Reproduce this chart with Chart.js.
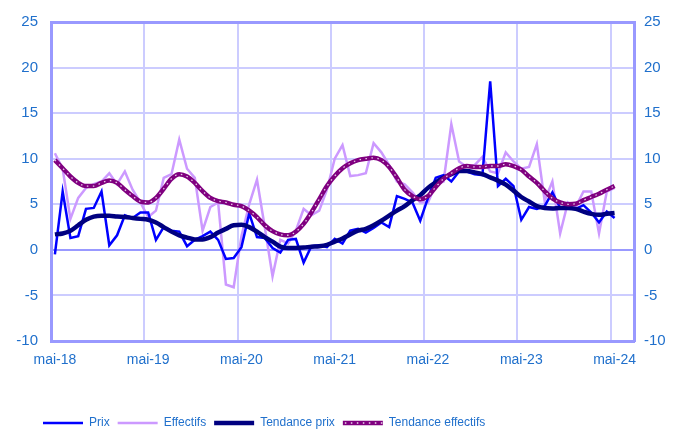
<!DOCTYPE html>
<html>
<head>
<meta charset="utf-8">
<script src="https://cdn.jsdelivr.net/npm/chart.js@4"></script>
<style>
  html, body { margin: 0; padding: 0; background: #fff; }
  #wrap { width: 678px; height: 432px; }
</style>
</head>
<body>
<div id="wrap"><canvas id="chart" width="678" height="432"></canvas></div>
<script>
// Mois de l'axe : mai-18 ... juil-24 (l'axe déborde un peu après la dernière donnée)
const moisNoms = ['mai', 'juin', 'juil', 'août', 'sept', 'oct', 'nov', 'déc', 'janv', 'févr', 'mars', 'avr'];
const nbMois = 75;
const mois = [];
for (let i = 0; i < nbMois; i++) {
    const annee = 18 + Math.floor((4 + i) / 12);
    mois.push(moisNoms[i % 12] + '-' + annee);
}

const graduations = [-10, -5, 0, 5, 10, 15, 20, 25];

// Glissement annuel, en %
const prix = [-0.5, 6.4, 1.3, 1.5, 4.5, 4.6, 6.4, 0.5, 1.6, 3.8,
    3.5, 4.1, 4.1, 1.1, 2.5, 2.1, 2.0, 0.4, 1.1, 1.5,
    2.0, 1.1, -1.0, -0.9, 0.3, 4.0, 1.4, 1.3, 0.2, -0.3,
    1.1, 1.2, -1.4, 0.4, 0.5, 0.3, 1.2, 0.7, 2.1, 2.3,
    1.9, 2.4, 3.0, 2.5, 5.9, 5.6, 5.2, 3.2, 5.7, 7.9,
    8.2, 7.5, 8.6, 8.6, 8.3, 8.2, 18.5, 7.0, 7.8, 7.0,
    3.3, 4.7, 4.5, 4.8, 6.3, 4.6, 4.7, 4.5, 4.9, 4.1,
    3.0, 4.2, 3.5];

const effectifs = [10.6, 8.9, 3.4, 5.7, 6.8, 7.2, 7.5, 8.4, 7.2, 8.6,
    6.6, 5.2, 3.6, 4.3, 7.9, 8.3, 12.1, 8.9, 7.9, 2.1,
    4.7, 5.2, -3.8, -4.1, 1.5, 5.0, 7.7, 2.5, -2.9, 1.1,
    0.7, 2.1, 4.5, 3.8, 4.3, 6.6, 10.0, 11.5, 8.1, 8.2,
    8.4, 11.7, 10.7, 9.3, 7.5, 7.2, 6.3, 5.2, 5.2, 7.2,
    7.5, 13.8, 9.7, 9.1, 9.3, 10.2, 8.6, 8.4, 10.7, 9.7,
    8.9, 9.1, 11.6, 5.4, 7.5, 1.8, 5.2, 4.7, 6.4, 6.4,
    1.8, 6.4, 6.8];

const tendancePrix = [1.7, 1.8, 2.1, 2.7, 3.3, 3.65, 3.75, 3.75, 3.65, 3.6,
    3.5, 3.4, 3.3, 3.0, 2.5, 2.0, 1.6, 1.35, 1.15, 1.15,
    1.4, 1.9, 2.3, 2.7, 2.75, 2.5, 2.0, 1.4, 0.9, 0.35,
    0.2, 0.2, 0.25, 0.35, 0.4, 0.55, 0.9, 1.25, 1.7, 2.1,
    2.3, 2.7, 3.2, 3.75, 4.3, 4.8, 5.45, 6.0, 6.8, 7.4,
    7.9, 8.3, 8.65, 8.65, 8.5, 8.3, 7.95, 7.6, 7.15, 6.5,
    5.8, 5.3, 4.8, 4.6, 4.55, 4.6, 4.6, 4.5, 4.2, 3.95,
    3.85, 3.95, 4.05];

const tendanceEffectifs = [9.85, 8.95, 8.05, 7.35, 7.0, 7.0, 7.35, 7.6, 7.35, 6.6,
    5.9, 5.3, 5.2, 5.7, 6.7, 7.8, 8.3, 8.05, 7.35, 6.45,
    5.7, 5.35, 5.2, 4.95, 4.8, 4.3, 3.6, 2.7, 2.05, 1.7,
    1.6, 2.0, 2.85, 4.1, 5.55, 7.0, 8.1, 8.95, 9.5, 9.85,
    10.0, 10.1, 9.85, 9.1, 7.9, 6.6, 5.9, 5.55, 5.9, 6.9,
    7.8, 8.4, 8.95, 9.2, 9.1, 9.1, 9.2, 9.2, 9.4, 9.2,
    8.8, 8.05, 7.35, 6.45, 5.65, 5.2, 5.0, 5.05, 5.45, 5.8,
    6.15, 6.6, 7.0];

const police = 'Liberation Sans, Arial, sans-serif';
const bleuTexte = '#2070cc';
const cadre = '#9999ff';
const grille = '#ccccff';

// la légende commence sous le graphique, un peu à droite du bord
const decalageLegende = {
    id: 'decalageLegende',
    afterLayout(chart) {
        chart.legend.left += 35;
        chart.legend.right += 35;
        chart.legend.top += 3;
        chart.legend.bottom += 3;
    }
};

// pointillés blancs sur la courbe "Tendance effectifs" de la légende
const pointillesLegende = {
    id: 'pointillesLegende',
    afterDraw(chart) {
        const boites = chart.legend.legendHitBoxes;
        if (!boites || !boites[3]) return;
        const b = boites[3];
        const ctx = chart.ctx;
        const y = b.top + b.height / 2;
        ctx.save();
        ctx.strokeStyle = 'rgba(255,255,255,0.85)';
        ctx.lineWidth = 1.5;
        ctx.setLineDash([1.5, 4.5]);
        ctx.beginPath();
        ctx.moveTo(b.left + 2, y);
        ctx.lineTo(b.left + 40, y);
        ctx.stroke();
        ctx.restore();
    }
};

const couleurGrilleY = ctx => {
    const v = ctx.tick ? ctx.tick.value : null;
    if (v === 25 || v === 0 || v === -10) return cadre;
    return grille;
};
const epaisseurGrilleY = ctx => {
    const v = ctx.tick ? ctx.tick.value : null;
    if (v === 25 || v === -10) return 3;
    return 2;
};

new Chart(document.getElementById('chart').getContext('2d'), {
    type: 'line',
    data: {
        labels: mois,
        datasets: [
            {
                label: 'Prix',
                data: prix,
                borderColor: '#0000ff',
                borderWidth: 2.5,
                pointRadius: 0,
                tension: 0,
                order: 4
            },
            {
                label: 'Effectifs',
                data: effectifs,
                borderColor: '#cc99ff',
                borderWidth: 2.5,
                pointRadius: 0,
                tension: 0,
                order: 5
            },
            {
                label: 'Tendance prix',
                data: tendancePrix,
                borderColor: '#000080',
                borderWidth: 4.5,
                pointRadius: 0,
                cubicInterpolationMode: 'monotone',
                order: 3
            },
            {
                label: 'Tendance effectifs',
                data: tendanceEffectifs,
                borderColor: '#800080',
                borderWidth: 4.5,
                pointRadius: 0,
                cubicInterpolationMode: 'monotone',
                order: 2
            },
            {
                label: 'pointilles',
                data: tendanceEffectifs,
                borderColor: 'rgba(255,255,255,0.8)',
                borderWidth: 1.3,
                borderDash: [1.5, 4.5],
                pointRadius: 0,
                cubicInterpolationMode: 'monotone',
                order: 1
            }
        ]
    },
    options: {
        responsive: false,
        animation: false,
        devicePixelRatio: 1,
        layout: { padding: { top: 17, left: 0, right: 0, bottom: -4 } },
        scales: {
            x: {
                offset: true,
                border: { color: cadre, width: 3 },
                grid: {
                    offset: true,
                    drawTicks: false,
                    lineWidth: 2,
                    color: ctx => (ctx.index !== undefined && ctx.index > 0 && ctx.index % 12 === 0) ? grille : 'transparent'
                },
                ticks: {
                    autoSkip: false,
                    maxRotation: 0,
                    minRotation: 0,
                    padding: 11,
                    color: bleuTexte,
                    font: { family: police, size: 14 },
                    callback: (v, i) => i % 12 === 0 ? mois[i] : ''
                },
                afterFit: s => { s.height = 65; }
            },
            y: {
                position: 'left',
                min: -10,
                max: 25,
                border: { color: cadre, width: 3 },
                grid: { drawTicks: false, color: couleurGrilleY, lineWidth: epaisseurGrilleY },
                ticks: {
                    stepSize: 5,
                    padding: 13,
                    color: bleuTexte,
                    font: { family: police, size: 15 },
                    callback: v => graduations.includes(v) ? v : ''
                },
                afterFit: s => { s.width = 51; }
            },
            y1: {
                position: 'right',
                min: -10,
                max: 25,
                border: { color: cadre, width: 3 },
                grid: { drawOnChartArea: false, drawTicks: false },
                ticks: {
                    stepSize: 5,
                    padding: 10,
                    color: bleuTexte,
                    font: { family: police, size: 15 },
                    callback: v => graduations.includes(v) ? v : ''
                },
                afterFit: s => { s.width = 44; }
            }
        },
        plugins: {
            tooltip: { enabled: false },
            legend: {
                position: 'bottom',
                align: 'start',
                labels: {
                    usePointStyle: true,
                    pointStyleWidth: 40,
                    padding: 8,
                    color: bleuTexte,
                    font: { family: police, size: 12 },
                    generateLabels: chart => chart.data.datasets.slice(0, 4).map((ds, i) => ({
                        text: ds.label,
                        strokeStyle: ds.borderColor,
                        fillStyle: ds.borderColor,
                        lineWidth: ds.borderWidth,
                        pointStyle: 'line',
                        fontColor: bleuTexte,
                        hidden: false,
                        datasetIndex: i
                    }))
                }
            }
        }
    },
    plugins: [decalageLegende, pointillesLegende]
});
</script>
</body>
</html>
